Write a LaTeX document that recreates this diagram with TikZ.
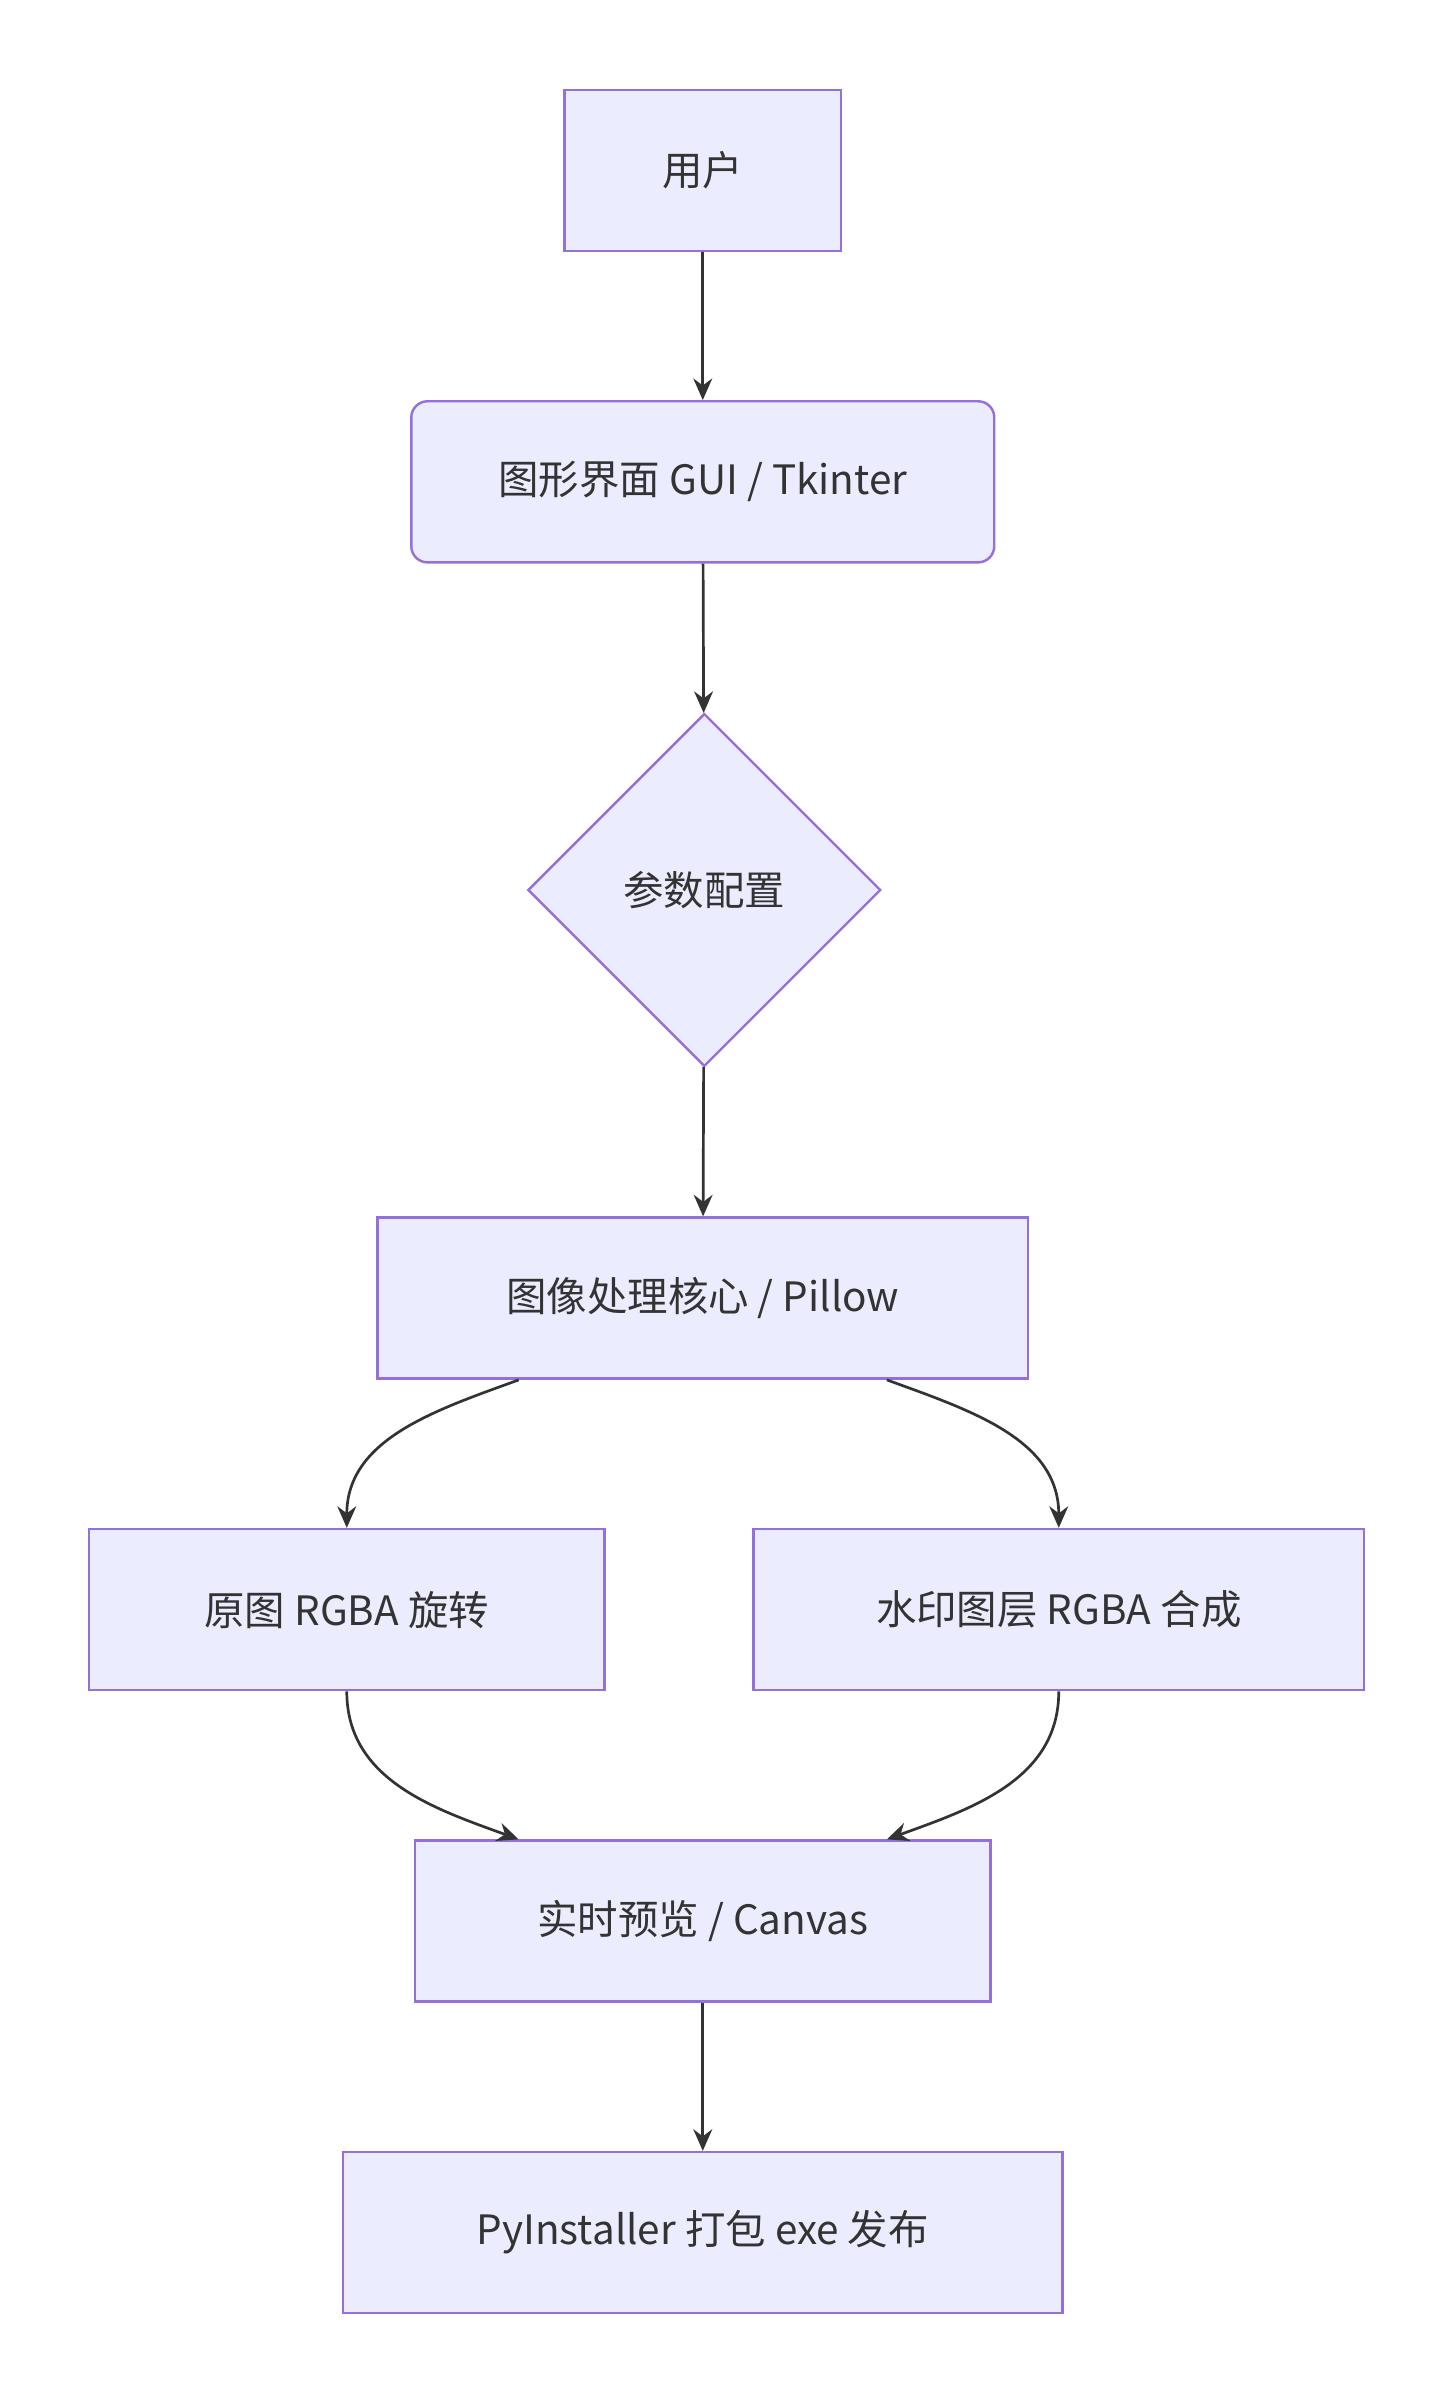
\documentclass[tikz,border=0pt]{standalone}
\usepackage{fontspec}
\setmainfont{Noto Sans CJK SC}
\usetikzlibrary{shapes.geometric,arrows.meta,calc}
\definecolor{boxfill}{HTML}{ECECFF}
\definecolor{boxline}{HTML}{9370DB}
\definecolor{ink}{HTML}{333333}
\tikzset{
  box/.style={draw=boxline,fill=boxfill,line width=0.9pt,text=ink,font=\fontsize{15}{18}\selectfont,
    minimum height=2.1cm,inner sep=0pt},
  flow/.style={draw=ink,line width=1pt,-{Stealth[length=8pt,width=7pt]}}
}
\begin{document}
\begin{tikzpicture}[x=0.02cm,y=-0.02cm]
\useasboundingbox (0,0) rectangle (948,1568);
% nodes
\node[box,minimum width=3.6cm] (user) at (458,111) {用户};
\node[box,rounded corners=6pt,minimum width=7.6cm] (gui) at (458,314) {图形界面 GUI / Tkinter};
\node[box,diamond,minimum width=4.6cm,minimum height=4.6cm] (param) at (459,580) {参数配置};
\node[box,minimum width=8.48cm] (core) at (458,846) {图像处理核心 / Pillow};
\node[box,minimum width=6.72cm] (rot) at (226,1049) {原图 RGBA 旋转};
\node[box,minimum width=7.96cm] (wm) at (690,1049) {水印图层 RGBA 合成};
\node[box,minimum width=7.5cm] (prev) at (458,1252) {实时预览 / Canvas};
\node[box,minimum width=9.38cm] (pack) at (458,1455) {PyInstaller 打包 exe 发布};

% edges
\draw[flow] (user) -- (gui);
\draw[flow] (gui) -- (param);
\draw[flow] (param) -- (core);
\draw[flow] ([xshift=-2.4cm]core.south) to[out=200,in=90] (rot.north);
\draw[flow] ([xshift=2.4cm]core.south) to[out=-20,in=90] (wm.north);
\draw[flow] (rot.south) to[out=-90,in=160] ([xshift=-2.4cm]prev.north);
\draw[flow] (wm.south) to[out=-90,in=20] ([xshift=2.4cm]prev.north);
\draw[flow] (prev) -- (pack);
\end{tikzpicture}
\end{document}
